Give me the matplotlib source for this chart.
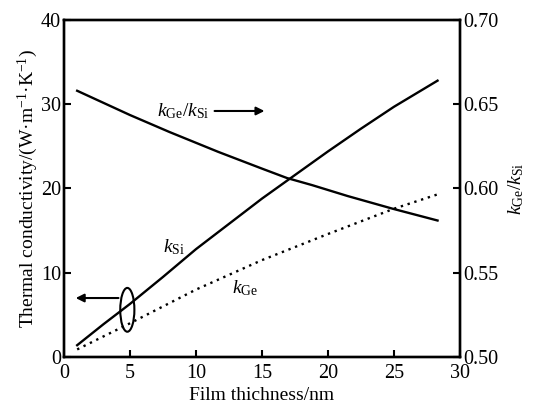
import matplotlib
matplotlib.use("Agg")
import matplotlib.pyplot as plt
from matplotlib.patches import Ellipse

plt.rcParams['font.family'] = ['Liberation Serif', 'DejaVu Serif']
plt.rcParams['mathtext.fontset'] = 'custom'
plt.rcParams['mathtext.rm'] = 'Liberation Serif'
plt.rcParams['mathtext.it'] = 'Liberation Serif:italic'

# film thickness (nm) vs thermal conductivity
x_si = [1, 3, 5, 7.5, 10, 12.5, 15, 17.5, 20, 22.5, 25, 28.3]
k_si = [1.4, 3.9, 6.3, 9.5, 12.8, 15.8, 18.8, 21.6, 24.4, 27.1, 29.7, 32.8]

x_ge = [1, 5, 10, 15, 20, 25, 28.3]
k_ge = [0.9, 4.0, 8.0, 11.5, 14.6, 17.6, 19.3]

x_ratio = [1, 5, 8, 11.7, 15, 16.9, 18.8, 21.5, 24.9, 28.3]
ratio = [0.658, 0.6436, 0.6335, 0.6217, 0.6118, 0.6062, 0.602, 0.5955, 0.588, 0.581]

fig = plt.figure(figsize=(5.33, 4.08), dpi=100)
ax = fig.add_axes([0.120, 0.125, 0.743, 0.826])
ax.plot(x_si, k_si, color='k', lw=1.7)
ax.plot(x_ge, k_ge, color='k', lw=1.7, linestyle=(0, (1, 2)))
ax.set_xlim(0, 30)
ax.set_ylim(0, 40)
ax.set_xticks([0, 5, 10, 15, 20, 25, 30])
ax.set_yticks([0, 10, 20, 30, 40])
ax.set_xlabel("Film thichness/nm", fontsize=14, labelpad=3)
ax.set_ylabel("Thermal conductivity/(W·m$^{-1}$·K$^{-1}$)", fontsize=14, labelpad=1)

ax2 = ax.twinx()
ax2.plot(x_ratio, ratio, color='k', lw=1.7)
ax2.set_ylim(0.50, 0.70)
ax2.set_yticks([0.50, 0.55, 0.60, 0.65, 0.70])
ax2.set_yticklabels(["0.50", "0.55", "0.60", "0.65", "0.70"])
ax2.set_ylabel("$k_{\\rm Ge}/k_{\\rm Si}$", fontsize=14, labelpad=6)

for a in (ax, ax2):
    a.tick_params(direction='in', labelsize=14.5, width=1.5, length=5, pad=2)
    for s in a.spines.values():
        s.set_linewidth(1.7)
ax.tick_params(axis='x', pad=5)

# annotations
ax.text(9.0, 29.2, "$k_{\\rm Ge}/k_{\\rm Si}$", fontsize=14, ha='center', va='center')
ax.annotate("", xy=(15.4, 29.2), xytext=(11.2, 29.2),
            arrowprops=dict(arrowstyle='-|>', color='k', lw=1.5, mutation_scale=12))
ax.text(8.3, 13.0, "$k_{\\rm Si}$", fontsize=14, ha='center', va='center')
ax.text(13.7, 8.2, "$k_{\\rm Ge}$", fontsize=14, ha='center', va='center')
ax.add_patch(Ellipse((4.8, 5.6), 1.07, 5.2, fill=False, color='k', lw=1.5))
ax.annotate("", xy=(0.68, 7.0), xytext=(4.34, 7.0),
            arrowprops=dict(arrowstyle='-|>', color='k', lw=1.5, mutation_scale=12))

plt.savefig("out.png", dpi=100)
